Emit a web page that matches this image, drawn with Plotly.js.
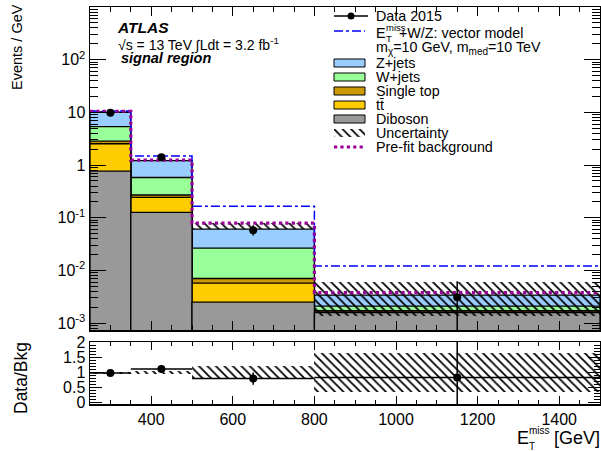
<!DOCTYPE html>
<html>
<head>
<meta charset="utf-8">
<script src="https://cdn.plot.ly/plotly-3.0.1.min.js"></script>
<style>html,body{margin:0;padding:0;background:#fff;}#plot{width:601px;height:451px;}</style>
</head>
<body>
<div id="plot"></div>
<script>
// ---- data (Events / GeV) ----
const binEdges = [250, 350, 500, 800, 1500];
const diboson   = [0.77, 0.126, 0.0025, 0.00158];
const ttbar     = [1.77, 0.117, 0.00325, 0.00006];
const singleTop = [0.31, 0.027, 0.00128, 0.00009];
const wjets     = [2.50, 0.31, 0.0195, 0.00037];
const zjets     = [4.65, 0.63, 0.0345, 0.0013];
const uncLow    = [9.7, 1.17, 0.061, 0.00136];
const uncHigh   = [10.4, 1.27, 0.079, 0.0061];
const prefitBkg = [10.5, 1.24, 0.079, 0.0038];
const signalTot = [10.6, 1.48, 0.166, 0.0121];
const dataX     = [300, 425, 650, 1150];
const dataY     = [9.8, 1.4, 0.058, 0.0031];
const dataErrUp = [0.3, 0.08, 0.014, 0.0031];
const dataErrDn = [0.3, 0.08, 0.012, 0.0028];
// ratio panel
const ratioY      = [0.98, 1.11, 0.80, 0.83];
const ratioErrUp  = [0.03, 0.06, 0.20, 1.5];
const ratioErrDn  = [0.03, 0.06, 0.21, 0.9];
const ratioUncLow = [0.96, 0.95, 0.78, 0.35];
const ratioUncHigh= [1.02, 1.06, 1.22, 1.65];
// tick labels
const logTickVals = [1e-3, 1e-2, 1e-1, 1, 10, 100];
const logTickText = ['10<sup>-3</sup>', '10<sup>-2</sup>', '10<sup>-1</sup>', '1', '10', '10<sup>2</sup>'];
const ratioTickVals = [0, 0.5, 1, 1.5, 2];
const ratioTickText = ['0', '0.5', '1', '1.5', '2'];

// ---- derived ----
const centers = binEdges.slice(0, -1).map((e, i) => (e + binEdges[i + 1]) / 2);
const widths = binEdges.slice(0, -1).map((e, i) => binEdges[i + 1] - e);
const layers = [
  {name: 'Diboson', vals: diboson, color: '#999999'},
  {name: 'ttbar', vals: ttbar, color: '#ffcc00'},
  {name: 'Single top', vals: singleTop, color: '#cc9900'},
  {name: 'W+jets', vals: wjets, color: '#99ff99'},
  {name: 'Z+jets', vals: zjets, color: '#99ccff'}
];
let cum = [0, 0, 0, 0];
const cumLayers = layers.map(l => { cum = cum.map((c, i) => c + l.vals[i]); return {name: l.name, color: l.color, vals: cum.slice()}; });
const stepY = arr => arr.concat([arr[arr.length - 1]]);

const FONT = 'Liberation Sans, Arial, Helvetica, sans-serif';
const HATCH = {shape: '\\', fgcolor: '#000', fgopacity: 1, bgcolor: 'rgba(0,0,0,0)', size: 6, solidity: 0.3, fillmode: 'overlay'};
const traces = [];
cumLayers.slice().reverse().forEach(l => {
  traces.push({type: 'bar', x: centers, y: l.vals, width: widths, xaxis: 'x', yaxis: 'y',
    marker: {color: l.color, line: {color: '#000', width: 1.3}}, hoverinfo: 'skip'});
});
traces.push({type: 'bar', x: centers, base: uncLow, y: uncHigh.map((h, i) => h - uncLow[i]), width: widths,
  xaxis: 'x', yaxis: 'y', marker: {color: 'rgba(0,0,0,0)', line: {width: 0}, pattern: HATCH}});
traces.push({type: 'scatter', mode: 'lines', x: binEdges, y: stepY(signalTot), xaxis: 'x', yaxis: 'y',
  line: {shape: 'hv', color: '#0000ff', width: 1.5, dash: 'dashdot'}});
traces.push({type: 'scatter', mode: 'lines', x: binEdges, y: stepY(prefitBkg), xaxis: 'x', yaxis: 'y',
  line: {shape: 'hv', color: '#990099', width: 3.2, dash: 'dot'}});
traces.push({type: 'scatter', mode: 'markers', x: dataX, y: dataY, xaxis: 'x', yaxis: 'y',
  marker: {color: '#000', size: 8},
  error_y: {type: 'data', array: dataErrUp, arrayminus: dataErrDn, color: '#000', thickness: 1.5, width: 0}});
traces.push({type: 'bar', x: centers, base: ratioUncLow, y: ratioUncHigh.map((h, i) => h - ratioUncLow[i]), width: widths,
  xaxis: 'x2', yaxis: 'y2', marker: {color: 'rgba(0,0,0,0)', line: {width: 0}, pattern: HATCH}});
traces.push({type: 'scatter', mode: 'markers', x: dataX, y: ratioY, xaxis: 'x2', yaxis: 'y2',
  marker: {color: '#000', size: 8},
  error_y: {type: 'data', array: ratioErrUp, arrayminus: ratioErrDn, color: '#000', thickness: 1.5, width: 0},
  error_x: {type: 'data', array: widths.map(w => w / 2), color: '#000', thickness: 1.5, width: 0}});
traces.push({type: 'bar', x: [0.5], y: [1], width: [1], xaxis: 'x3', yaxis: 'y3',
  marker: {color: 'rgba(0,0,0,0)', line: {width: 0}, pattern: HATCH}});

// ---- geometry helpers (pixel -> paper) ----
const L = 90, R = 600, T = 7, B = 404;
const px = x => (x - L) / (R - L);
const py = y => (B - y) / (B - T);

const minorLog = [];
for (let d = -4; d <= 3; d++) for (let m = 2; m <= 9; m++) minorLog.push(m * Math.pow(10, d));

const axisCommon = {showline: true, mirror: 'allticks', linecolor: '#000', linewidth: 1.5, ticks: 'inside',
  tickcolor: '#000', showgrid: false, zeroline: false, tickfont: {family: FONT, size: 16, color: '#000'}};

const layout = {
  width: 601, height: 451, margin: {l: L, r: 601 - R, t: T, b: 451 - B},
  paper_bgcolor: '#fff', plot_bgcolor: '#fff', showlegend: false, barmode: 'overlay', bargap: 0,
  font: {family: FONT, color: '#000'},
  xaxis: Object.assign({}, axisCommon, {range: [250, 1500], anchor: 'y', showticklabels: false,
    tick0: 0, dtick: 200, ticklen: 9, minor: {dtick: 50, ticklen: 5, ticks: 'inside', tickcolor: '#000'}}),
  yaxis: Object.assign({}, axisCommon, {type: 'log', range: [Math.log10(7.4e-4), 3], domain: [py(330), 1],
    anchor: 'x', tickmode: 'array', tickvals: logTickVals, ticktext: logTickText, ticklen: 16,
    minor: {tickmode: 'array', tickvals: minorLog, ticklen: 8, ticks: 'inside', tickcolor: '#000'}}),
  xaxis2: Object.assign({}, axisCommon, {range: [250, 1500], anchor: 'y2', matches: 'x',
    tick0: 0, dtick: 200, ticklen: 8, minor: {dtick: 50, ticklen: 4, ticks: 'inside', tickcolor: '#000'}}),
  yaxis2: Object.assign({}, axisCommon, {range: [-0.04, 2.0], domain: [0, py(342)], anchor: 'x2',
    tickmode: 'array', tickvals: ratioTickVals, ticktext: ratioTickText, ticklen: 12,
    minor: {dtick: 0.1, ticklen: 6, ticks: 'inside', tickcolor: '#000'}}),
  xaxis3: {domain: [px(334), px(365)], range: [0, 1], visible: false, anchor: 'y3', fixedrange: true},
  yaxis3: {domain: [py(137), py(129)], range: [0, 1], visible: false, anchor: 'x3', fixedrange: true},
  shapes: [], annotations: []
};

const ann = (x, y, text, size, opts) => layout.annotations.push(Object.assign({xref: 'paper', yref: 'paper',
  x: px(x), y: py(y), text: text, showarrow: false, xanchor: 'left', yanchor: 'middle',
  font: {family: FONT, size: size, color: '#000'}}, opts || {}));

// ATLAS labels
ann(115, 28, '<b><i>ATLAS</i></b>', 15.5);
ann(116, 44, '√s = 13 TeV ∫Ldt = 3.2 fb<sup>-1</sup>', 14);
ann(119, 58, '<b><i>signal region</i></b>', 14.5);

// legend
const LF = 14.3;
ann(374, 16, 'Data 2015', LF);
ann(374, 33, 'E', LF);
ann(384, 28, 'miss', 9.5);
ann(384, 38, 'T', 9.5);
ann(397, 33, '+W/Z: vector model', LF);
ann(374, 48, 'm<sub>χ</sub>=10 GeV, m<sub>med</sub>=10 TeV', LF);
ann(374, 63, 'Z+jets', LF);
ann(374, 77, 'W+jets', LF);
ann(374, 91, 'Single top', LF);
ann(374, 105, 'tt\u0304', LF);
ann(374, 119, 'Diboson', LF);
ann(374, 133, 'Uncertainty', LF);
ann(374, 147, 'Pre-fit background', LF);

const legBox = (y, color) => layout.shapes.push({type: 'rect', xref: 'paper', yref: 'paper',
  x0: px(334), x1: px(365), y0: py(y + 4), y1: py(y - 4), fillcolor: color, line: {color: '#000', width: 1}});
legBox(63, '#99ccff'); legBox(77, '#99ff99'); legBox(91, '#cc9900'); legBox(105, '#ffcc00'); legBox(119, '#999999');
layout.shapes.push({type: 'line', xref: 'paper', yref: 'paper', x0: px(334), x1: px(368), y0: py(16), y1: py(16), line: {color: '#000', width: 1.5}});
layout.shapes.push({type: 'circle', xref: 'paper', yref: 'paper', x0: px(347.5), x1: px(354.5), y0: py(19.5), y1: py(12.5), fillcolor: '#000', line: {color: '#000', width: 0}});
layout.shapes.push({type: 'line', xref: 'paper', yref: 'paper', x0: px(334), x1: px(365), y0: py(31), y1: py(31), line: {color: '#0000ff', width: 1.5, dash: 'dashdot'}});
layout.shapes.push({type: 'line', xref: 'paper', yref: 'paper', x0: px(334), x1: px(365), y0: py(147), y1: py(147), line: {color: '#990099', width: 3.2, dash: 'dot'}});

// axis titles
ann(17, 47, 'Events / GeV', 14.5, {textangle: -90, xanchor: 'center'});
ann(21, 378, 'Data/Bkg', 17.5, {textangle: -90, xanchor: 'center'});
ann(515, 438, 'E', 18);
ann(527, 430, 'miss', 10);
ann(527, 446, 'T', 10);
ann(552, 438, '[GeV]', 18);

Plotly.newPlot('plot', traces, layout, {staticPlot: true});
</script>
</body>
</html>
